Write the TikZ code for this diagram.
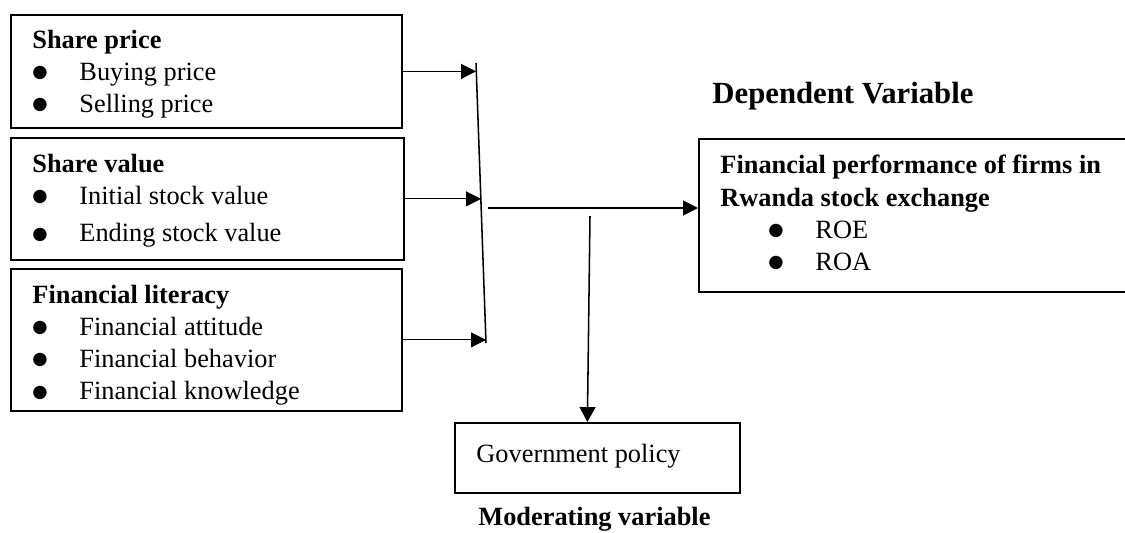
\documentclass[tikz,border=0pt]{standalone}
\usepackage{fontspec}
\setmainfont{Liberation Serif}
\newfontfamily\dotfont{DejaVu Sans}
\usetikzlibrary{positioning,arrows.meta,calc}
\newlength{\unitpx}
\setlength{\unitpx}{0.016cm}
\tikzset{
  box/.style={draw, line width=0.8pt, anchor=north west, inner sep=0pt},
  txt/.style={anchor=north west, align=left, inner sep=0pt,
              font=\fontsize{12}{14.6}\selectfont},
  feed/.style={-{Triangle[length=6.8pt, width=6.8pt]}, line width=0.5pt},
  main/.style={-{Triangle[length=6.8pt, width=6.8pt]}, line width=0.9pt},
  down/.style={-{Triangle[length=6.8pt, width=7.2pt]}, line width=0.7pt},
  bar/.style={line width=0.7pt},
  % headings that stand outside the boxes
  heading/.style={font=\fontsize{14}{17}\selectfont\bfseries,
                  anchor=base west, inner sep=0pt},
  caption/.style={font=\fontsize{12}{14.4}\selectfont\bfseries,
                  anchor=base west, inner sep=0pt},
}
\newcommand{\bul}[2][0pt]{\hspace*{#1}%
  \makebox[47\unitpx][l]{\raisebox{1.3pt}{\dotfont\fontsize{8}{8}\selectfont ●}}#2}

\begin{document}
\begin{tikzpicture}[x=0.016cm, y=-0.016cm]
\useasboundingbox (0,0) rectangle (1125,533);

%% ── independent variables, stacked on the left ────────────────────────────
\node[box, minimum width=391\unitpx, minimum height=113\unitpx] (price) at (10,14) {};
\node[txt] (priceT) at ([shift={(22,16)}]price.north west)
  {\textbf{Share price}\\
   \bul{Buying price}\\
   \bul{Selling price}};

\node[box, minimum width=393\unitpx, minimum height=122\unitpx] (value) at (10,137) {};
\node[txt] (valueT) at ([shift={(22,17)}]value.north west)
  {\textbf{Share value}\\
   \bul{Initial stock value}\\[2.3pt]
   \bul{Ending stock value}};

\node[box, minimum width=391\unitpx, minimum height=142\unitpx] (lit) at (10,268) {};
\node[txt] (litT) at ([shift={(22,17)}]lit.north west)
  {\textbf{Financial literacy}\\
   \bul{Financial attitude}\\
   \bul{Financial behavior}\\
   \bul{Financial knowledge}};

%% ── dependent variable ────────────────────────────────────────────────────
\node[heading] (dep) at (712,103) {Dependent Variable};
\node[box, minimum width=440\unitpx, minimum height=153\unitpx] (perf) at (698,138) {};
\node[txt] (perfT) at ([shift={(22,17)}]perf.north west)
  {\textbf{Financial performance of firms in}\\
   \textbf{Rwanda stock exchange}\\
   \bul[48\unitpx]{ROE}\\
   \bul[48\unitpx]{ROA}};

%% ── moderating variable ───────────────────────────────────────────────────
\node[box, minimum width=285\unitpx, minimum height=70\unitpx] (gov) at (454,422) {};
\node[txt] (govT) at ([shift={(22,22)}]gov.north west) {Government policy};
\node[caption] (modT) at (478,525) {Moderating variable};

%% ── the collecting bar and the arrows into it ─────────────────────────────
\coordinate (barTop) at (476,63);
\coordinate (barBot) at (486,343);
\coordinate (barMid) at ($(barTop)!0.5!(barBot)$);
\draw[bar] (barTop) -- (barBot);

\draw[feed] (price.east) -- (price.east -| barTop);
\draw[feed] (value.east) -- (value.east -| barMid);
\draw[feed] (lit.east) -- (lit.east -| barBot);

%% ── out to the dependent variable, down to the moderator ─────────────────
\coordinate (out) at (488,208);
\draw[main] (out) -- (out -| perf.west);

\coordinate (mod) at (590,216);
\draw[down] (mod) -- ([xshift=-10\unitpx]gov.north);

\end{tikzpicture}
\end{document}
